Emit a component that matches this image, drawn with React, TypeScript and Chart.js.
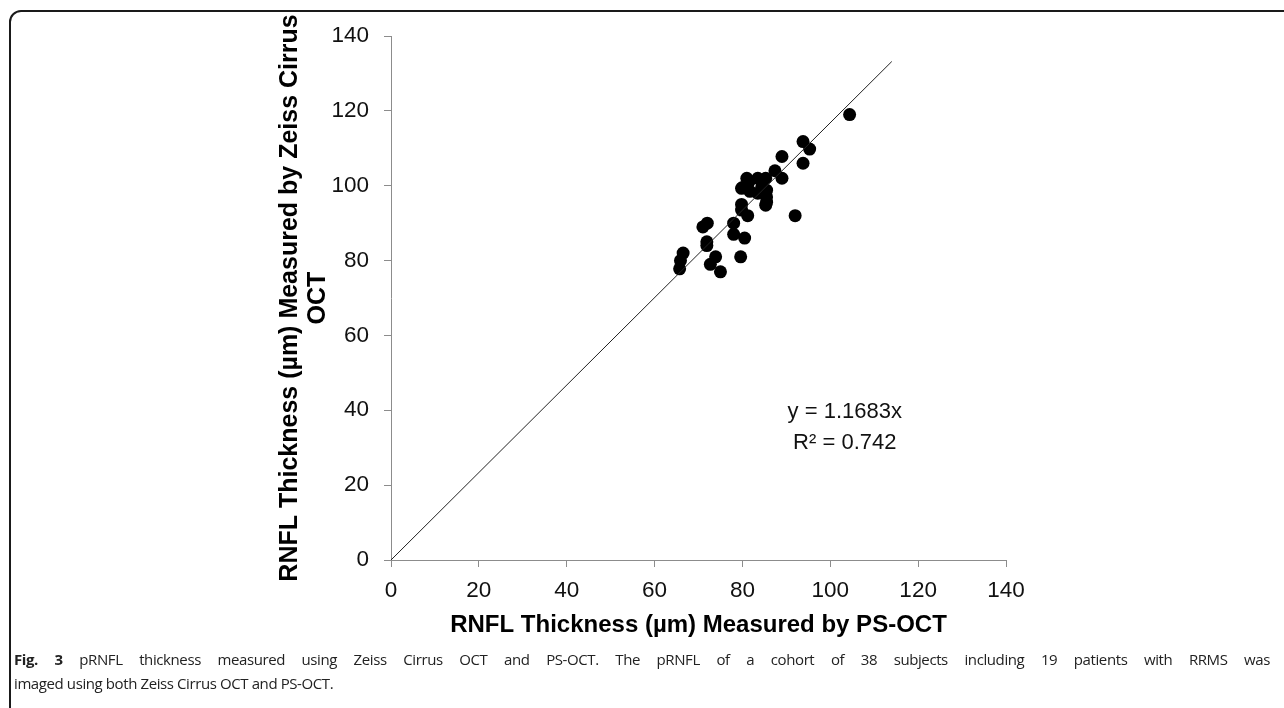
import React, { useEffect, useRef } from "react";
import { Chart, registerables } from "chart.js";

Chart.register(...registerables);

const PS_OCT_X = [
  65.7, 65.9, 66.5, 71.9, 71.9, 71.0, 72.0, 72.7, 73.9, 75.0,
  78.0, 78.0, 79.6, 80.5, 79.8, 79.8, 79.8, 81.2, 81.0, 81.5,
  81.7, 83.5, 84.4, 85.3, 83.5, 85.5, 85.5, 85.5, 85.3, 87.4,
  89.0, 89.0, 92.0, 93.8, 93.8, 95.3, 104.4, 80.0,
];
const CIRRUS_Y = [
  77.8, 80.0, 82.0, 84.0, 85.0, 89.0, 90.0, 79.0, 81.0, 77.0,
  87.0, 90.0, 81.0, 86.0, 93.5, 95.0, 99.3, 92.0, 102.0, 101.0,
  98.5, 102.0, 99.7, 102.0, 98.0, 98.8, 97.0, 95.6, 94.8, 104.0,
  107.8, 102.0, 92.0, 106.0, 111.8, 109.8, 119.0, 99.5,
];
const TREND_SLOPE = 1.1683;
const TREND_X = [0, 114];
const AXIS_MIN = 0;
const AXIS_MAX = 140;
const AXIS_STEP = 20;
const EQUATION_LINES = ["y = 1.1683x", "R² = 0.742"];
const EQUATION_POS = { x: 103.3, y: [39.5, 31.3] };

const X_TITLE = "RNFL Thickness (µm) Measured by PS-OCT";
const Y_TITLE = ["RNFL Thickness (µm) Measured by Zeiss Cirrus", "OCT"];

const FONT = "Arial, 'Liberation Sans', sans-serif";

export default function App() {
  const ref = useRef<HTMLCanvasElement | null>(null);

  useEffect(() => {
    const canvas = ref.current;
    if (!canvas) return;
    const points = PS_OCT_X.map((x, i) => ({ x, y: CIRRUS_Y[i] }));
    const trend = TREND_X.map((x) => ({ x, y: TREND_SLOPE * x }));

    const annot = {
      id: "equation",
      afterDatasetsDraw(chart: any) {
        const { ctx, scales } = chart;
        ctx.save();
        ctx.font = `22px ${FONT}`;
        ctx.fillStyle = "#111";
        ctx.textAlign = "center";
        ctx.textBaseline = "middle";
        EQUATION_LINES.forEach((t, i) => {
          ctx.fillText(
            t,
            scales.x.getPixelForValue(EQUATION_POS.x),
            scales.y.getPixelForValue(EQUATION_POS.y[i])
          );
        });
        ctx.restore();
      },
    };

    const axisCommon = (title: any, isY: boolean) => ({
      type: "linear",
      min: AXIS_MIN,
      max: AXIS_MAX,
      ticks: {
        stepSize: AXIS_STEP,
        color: "#111",
        font: { family: FONT, size: 22.5 },
        padding: isY ? 15 : 10,
      },
      grid: {
        display: true,
        drawOnChartArea: false,
        drawTicks: true,
        tickLength: 7,
        color: "#8c8c8c",
      },
      border: { display: true, color: "#8c8c8c", width: 1 },
      title: {
        display: true,
        text: title,
        color: "#000",
        font: {
          family: FONT,
          size: isY ? 25 : 24,
          weight: "bold",
          lineHeight: isY ? 1.12 : 1.17,
        },
        padding: 0,
      },
      afterFit: (scale: any) => {
        if (isY) scale.width = 115;
        else scale.height = 79;
      },
    });

    const chart = new Chart(canvas, {
      type: "scatter",
      data: {
        datasets: [
          {
            type: "line",
            data: trend,
            borderColor: "#222",
            borderWidth: 1,
            pointRadius: 0,
            fill: false,
          },
          {
            type: "scatter",
            data: points,
            backgroundColor: "#000",
            borderColor: "#000",
            pointRadius: 6.5,
            borderWidth: 0,
          },
        ],
      } as any,
      options: {
        animation: false,
        responsive: false,
        maintainAspectRatio: false,
        devicePixelRatio: 1,
        layout: { padding: { left: 276, top: 36, right: 278, bottom: 69 } },
        plugins: { legend: { display: false }, tooltip: { enabled: false } },
        scales: {
          x: axisCommon(X_TITLE, false) as any,
          y: axisCommon(Y_TITLE, true) as any,
        },
      },
      plugins: [annot],
    });
    return () => chart.destroy();
  }, []);

  return (
    <div
      style={{
        position: "absolute",
        left: 0,
        top: 0,
        width: 1284,
        height: 708,
        overflow: "hidden",
        background: "#fff",
      }}
    >
      <div
        style={{
          position: "absolute",
          left: 9,
          top: 10,
          width: 1320,
          height: 740,
          border: "2px solid #1a1a1a",
          borderRadius: 12,
          boxSizing: "border-box",
        }}
      />
      <canvas
        ref={ref}
        width={1284}
        height={708}
        style={{ position: "absolute", left: 0, top: 0, width: 1284, height: 708 }}
      />
      <div
        style={{
          position: "absolute",
          left: 14,
          top: 647,
          width: 1256,
          fontFamily: "'Open Sans', 'Noto Sans', sans-serif",
          fontSize: 15,
          letterSpacing: "-0.4px",
          lineHeight: "24px",
          color: "#222",
        }}
      >
        <div style={{ textAlign: "justify", textAlignLast: "justify" } as any}>
          <b>Fig. 3</b> pRNFL thickness measured using Zeiss Cirrus OCT and PS-OCT. The pRNFL of a cohort of 38 subjects including 19 patients with RRMS was
        </div>
        <div>imaged using both Zeiss Cirrus OCT and PS-OCT.</div>
      </div>
    </div>
  );
}
